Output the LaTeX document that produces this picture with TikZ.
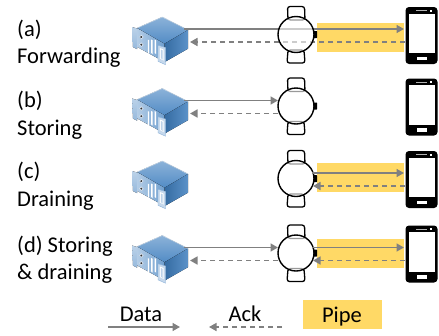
\documentclass[tikz,border=0pt]{standalone}
\usepackage{fontspec}
\setmainfont{Carlito}
\usetikzlibrary{arrows.meta}
\definecolor{arrowgray}{HTML}{808080}
\definecolor{pipeyellow}{HTML}{FFD966}
\definecolor{serverblue}{HTML}{3F7FBF}
\tikzset{
  x=1pt,y=-1pt,
  lab/.style={anchor=base west,font=\fontsize{22.5}{26}\selectfont,inner sep=0pt,text=black},
  leg/.style={anchor=base,font=\fontsize{22.5}{26}\selectfont,inner sep=0pt,text=black},
  datarrow/.style={draw=arrowgray,line width=1.5pt,-{Triangle[length=7.5pt,width=8pt]}},
  ackarrow/.style={draw=arrowgray,line width=1.5pt,dash pattern=on 5.5pt off 3.5pt,-{Triangle[length=7.5pt,width=8pt]}},
  pipebox/.style={fill=pipeyellow,draw=none,inner sep=0pt},
  pics/server/.style={code={
    \fill[top color=#1!35!white,bottom color=#1!55!white] (132,27) -- (137,28.5) -- (137,49) -- (133,47) -- cycle;
    \fill[left color=#1!40!white,right color=#1!75!white] (137.3,28) -- (164.7,43.7) -- (164.7,62) -- (137.3,47) -- cycle;
    \fill[top color=#1!60!white,bottom color=#1!90!white] (162.3,17) -- (188,30) -- (164.7,43.7) -- (137.3,28) -- cycle;
    \fill[left color=#1!85!black,right color=#1!85!white] (164.7,43.7) -- (188,30) -- (188,48.7) -- (164.7,62) -- cycle;
    \draw[white!75!#1,line width=.5pt] (137.3,28) -- (162.3,17) -- (188,30);
    \fill[#1!30!white,draw=#1!60!white,line width=.4pt] (158,45.3) -- (165.5,47.5) -- (165.5,64.7) -- (158,61.3) -- cycle;
    \fill[white] (159.8,48) -- (163.5,49.5) -- (163.5,60.5) -- (159.8,58.5) -- cycle;
    \fill[#1!35!white] (160.8,49.5) -- (162.5,50.3) -- (162.5,59.5) -- (160.8,57.8) -- cycle;
    \fill[black!80,draw=#1!20!white,line width=.7pt] (141.3,37) circle (1.8);
    \fill[black!80,draw=#1!20!white,line width=.7pt] (141.3,44.7) circle (1.8);
    \foreach \sx in {147.8,151.2,154.6}{
      \fill[white] (\sx,39.5) -- (\sx+1.4,40.3) -- (\sx+1.4,54) -- (\sx,53) -- cycle;
    }
    \coordinate (-data) at (184,29);
    \coordinate (-ack) at (190,42);
  }},
  pics/server/.default=serverblue,
  pics/watch/.style={code={
    \fill[white,draw=black,line width=1.3pt,rounded corners=2.5pt] (288,20) -- (287.5,6.5) -- (304.5,6.5) -- (305,20) -- cycle;
    \fill[white,draw=black,line width=1.3pt,rounded corners=2.5pt] (288,50) -- (287,63) -- (305,63) -- (304,50) -- cycle;
    \fill[black,rounded corners=.5pt] (313,31) rectangle (317,38);
    \fill[white,fill opacity=.6] (296,34.5) circle (18);
    \draw[black,line width=1.4pt] (296,34.5) circle (18);
    \coordinate (-dl) at (278,29);
    \coordinate (-al) at (278,42);
    \coordinate (-dr) at (312,29);
    \coordinate (-ar) at (313,42);
  }},
  pics/phone/.style={code={
    \fill[black,rounded corners=3.5pt] (405.5,7) rectangle (437.5,64);
    \fill[white] (408.5,13.5) rectangle (434.5,53);
    \fill[white!70!black] (416,10.2) rectangle (427,11.4);
    \fill[white] (430,9.7) rectangle (432,11.8);
    \fill[white] (416.5,56.5) rectangle (426.5,60);
    \coordinate (-d) at (404,29);
    \coordinate (-a) at (405,42);
  }},
}
\begin{document}
\begin{tikzpicture}
\useasboundingbox (0,0) rectangle (439,335);
\fill[white] (0,0) rectangle (439,335);

% pipes
\node[pipebox,minimum width=87pt,minimum height=29pt] (pa) at (360.5,37.5) {};
\node[pipebox,minimum width=87pt,minimum height=29pt] (pc) at (360.5,177.5) {};
\node[pipebox,minimum width=87pt,minimum height=29pt] (pd) at (360.5,253.5) {};

% row positions
\coordinate (ra) at (0,0);
\coordinate (rb) at (0,71.5);
\coordinate (rc) at (0,144);
\coordinate (rd) at (0,218.5);

\pic (sa) at (ra) {server};
\pic (pha) at (ra) {phone};
\pic (sb) at (rb) {server};
\pic (phb) at (rb) {phone};
\pic (sc) at (rc) {server};
\pic (phc) at (rc) {phone};
\pic (sd) at (rd) {server};
\pic (phd) at (rd) {phone};

\draw[datarrow] (sa-data) -- (pha-d);
\draw[ackarrow] (pha-a) -- (sa-ack);

\pic (wa) at (ra) {watch};
\pic (wb) at (rb) {watch};
\pic (wc) at (rc) {watch};
\pic (wd) at (rd) {watch};

\draw[datarrow] (sb-data) -- (wb-dl);
\draw[ackarrow] (wb-al) -- (sb-ack);
\draw[datarrow] (wc-dr) -- (phc-d);
\draw[ackarrow] (phc-a) -- (wc-ar);
\draw[datarrow] (sd-data) -- (wd-dl);
\draw[ackarrow] (wd-al) -- (sd-ack);
\draw[datarrow] (wd-dr) -- (phd-d);
\draw[ackarrow] (phd-a) -- (wd-ar);

% labels
\node[lab] (la1) at (17,36) {(a)};
\node[lab] (la2) at (17,63) {Forwarding};
\node[lab] (lb1) at (17,107) {(b)};
\node[lab] (lb2) at (17,135) {Storing};
\node[lab] (lc1) at (17,178) {(c)};
\node[lab] (lc2) at (17,206) {Draining};
\node[lab] (ld1) at (17,252) {(d) Storing};
\node[lab] (ld2) at (17,279) {\& draining};

% legend
\coordinate (d1) at (108,327);
\coordinate (d2) at (180,327);
\coordinate (a1) at (282,327);
\coordinate (a2) at (209,327);
\draw[datarrow] (d1) -- (d2);
\draw[ackarrow] (a1) -- (a2);
\node[leg] (ld) at (141,321) {Data};
\node[leg] (lk) at (245,321) {Ack};
\node[pipebox,minimum width=79pt,minimum height=29pt] (lp) at (342.5,314.5) {};
\node[leg] (lpt) at (342,322) {Pipe};
\end{tikzpicture}
\end{document}
